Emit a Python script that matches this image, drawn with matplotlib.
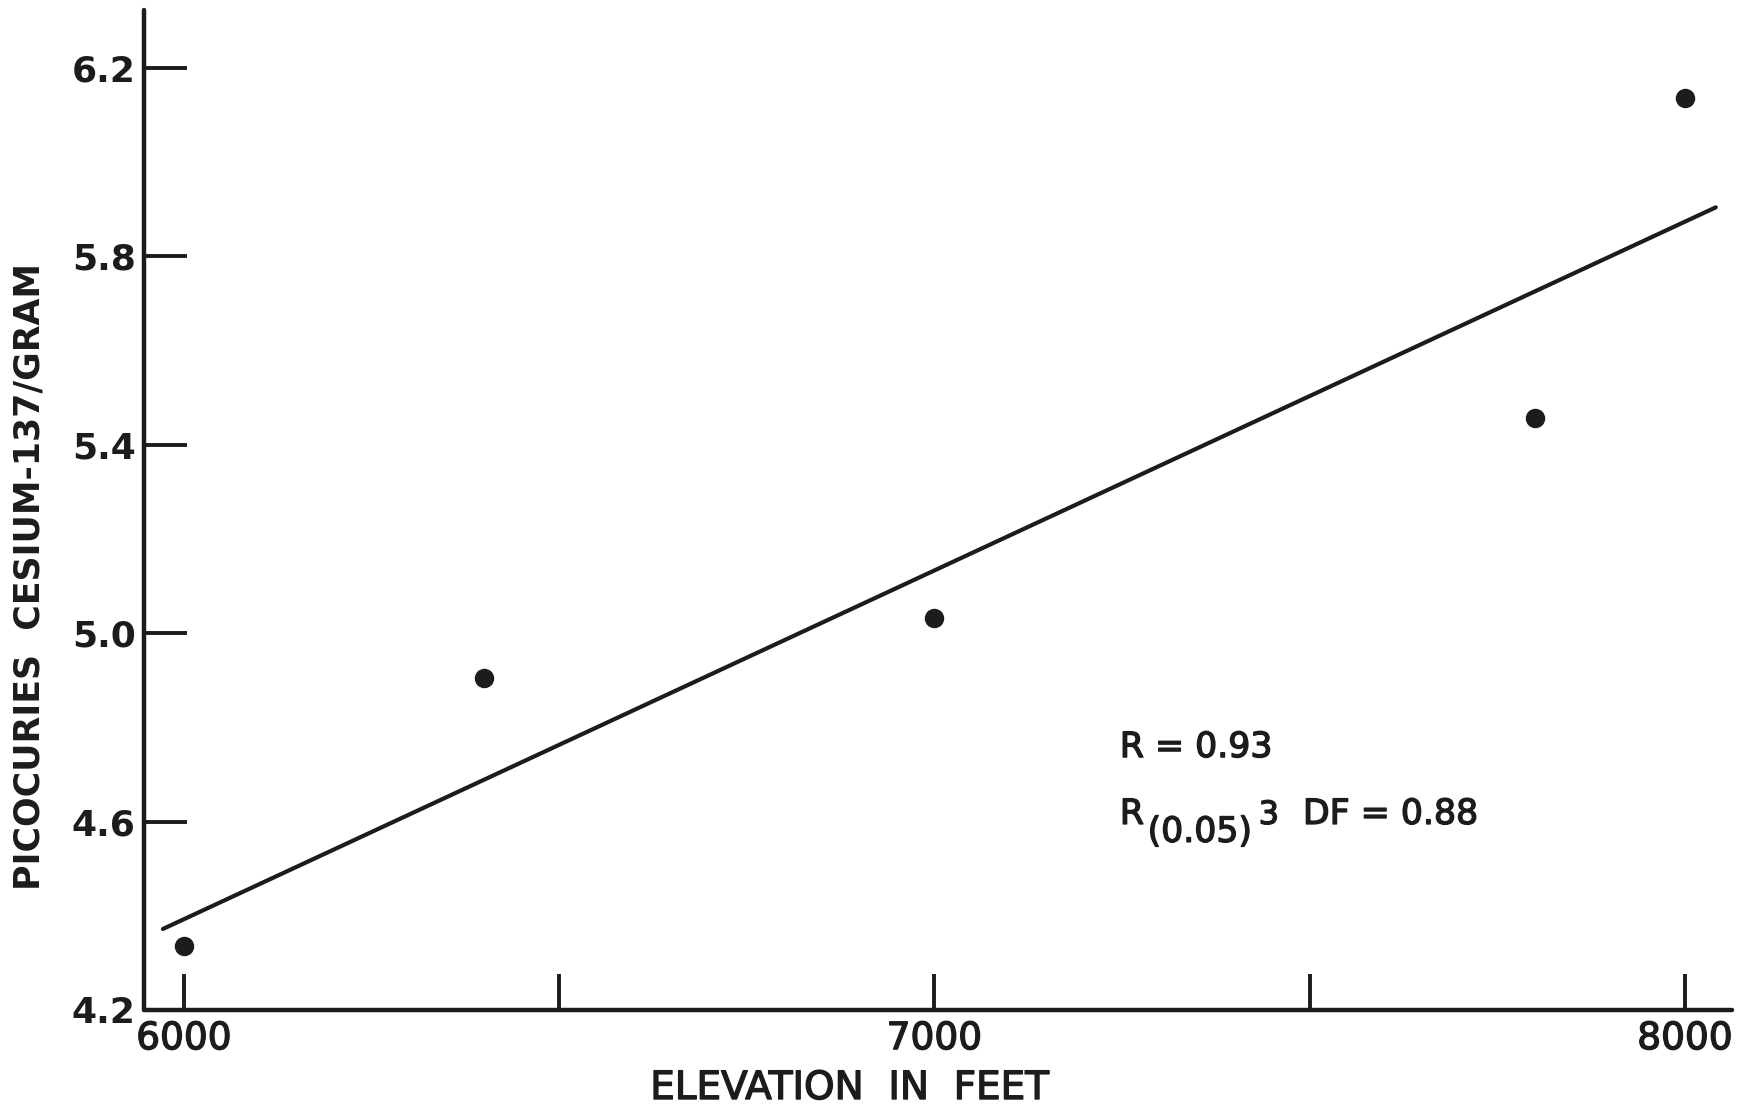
import numpy as np
import matplotlib.pyplot as plt
import matplotlib.patheffects as pe

# sample sites: elevation (ft) vs Cs-137 activity (pCi/g)
elevation = [6000, 6400, 7000, 7800, 8000]
cesium = [4.336, 4.904, 5.032, 5.457, 6.136]

# ends of the fitted regression line
fit_elev = [5972, 8041]
fit_cs = [4.372, 5.904]

xticks = [6000, 6500, 7000, 7500, 8000]
xticklabels = ['6000', '', '7000', '', '8000']
yticks = [4.2, 4.6, 5.0, 5.4, 5.8, 6.2]
yticklabels = ['4.2', '4.6', '5.0', '5.4', '5.8', '6.2']

ink = '#1c1c1c'
# thicken the plain lettering a little
heavy = [pe.withStroke(linewidth=1.0, foreground=ink)]

fig = plt.figure(figsize=(17.53, 11.10), dpi=100)
ax = fig.add_axes([0.0821, 0.0901, 0.9059, 0.9009])

ax.plot(fit_elev, fit_cs, color=ink, lw=3.0, solid_capstyle='round')
ax.plot(elevation, cesium, 'o', color=ink, ms=13, mec=ink)

ax.set_xlim(5946.7, 8062.6)
ax.set_ylim(4.2, 6.323)

for s in ['top', 'right']:
    ax.spines[s].set_visible(False)
for s in ['left', 'bottom']:
    ax.spines[s].set_linewidth(3.2)
    ax.spines[s].set_color(ink)
    ax.spines[s].set_capstyle('round')

ax.set_xticks(xticks)
ax.set_xticklabels(xticklabels)
ax.set_yticks(yticks)
ax.set_yticklabels(yticklabels, fontweight='bold')
ax.tick_params(axis='x', direction='in', length=26, width=2.8, color=ink,
               labelsize=27, pad=8, labelcolor=ink)
ax.tick_params(axis='y', direction='in', length=31, width=2.8, color=ink,
               labelsize=26, pad=6, labelcolor=ink)
for lab in ax.get_xticklabels():
    lab.set_path_effects(heavy)

fig.text(850 / 1753, 1 - 1088 / 1110, 'ELEVATION  IN  FEET', ha='center',
         va='center', fontsize=28, color=ink, path_effects=heavy)
fig.text(30 / 1753, 1 - 576 / 1110, 'PICOCURIES  CESIUM-137/GRAM', ha='center',
         va='center', rotation=90, fontsize=25, fontweight='bold', color=ink)

# correlation note
note = dict(color=ink, va='baseline', path_effects=heavy)
ax.text(7247, 4.737, 'R = 0.93', fontsize=25, **note)
ax.text(7247, 4.595, 'R', fontsize=25, **note)
ax.text(7284, 4.557, '(0.05)', fontsize=25, **note)
ax.text(7432, 4.595, '3', fontsize=23, **note)
ax.text(7491, 4.595, 'DF = 0.88', fontsize=25, **note)

fig.savefig('out.png', dpi=100, facecolor='white')
